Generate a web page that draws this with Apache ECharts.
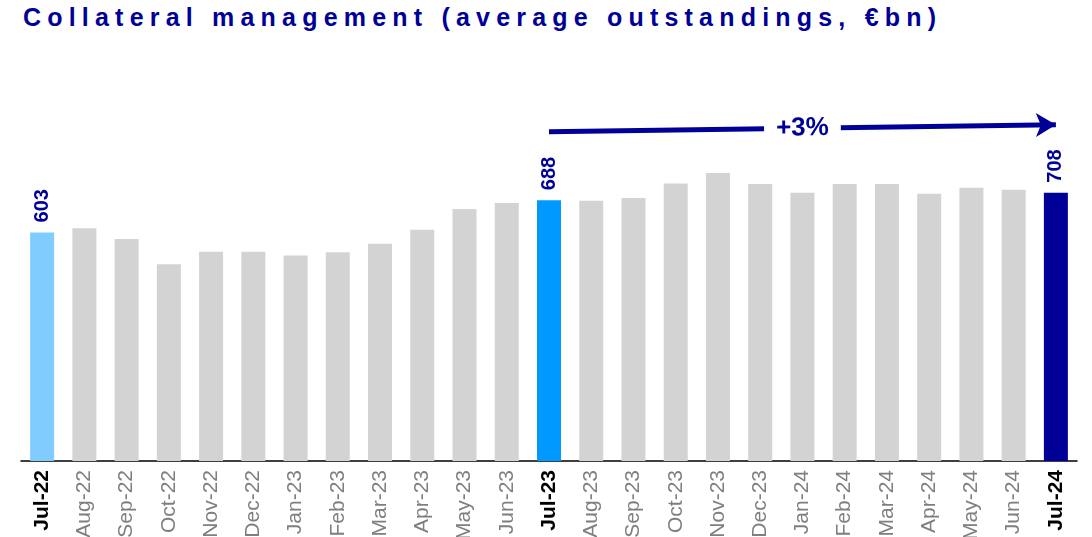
<!DOCTYPE html>
<html>
<head>
<meta charset="utf-8">
<script src="https://cdn.jsdelivr.net/npm/echarts@6/dist/echarts.min.js"></script>
<style>
  html, body { margin: 0; padding: 0; background: #fff; }
  #title {
    position: absolute; left: 23px; top: 3px;
    font: bold 25px "Liberation Sans", Arial, sans-serif;
    letter-spacing: 6.2px; color: #000099; white-space: nowrap;
  }
  #chart { width: 1092px; height: 537px; }
</style>
</head>
<body>
<div id="title">Collateral management (average outstandings, €bn)</div>
<div id="chart"></div>
<script>
var months = ['Jul-22', 'Aug-22', 'Sep-22', 'Oct-22', 'Nov-22', 'Dec-22', 'Jan-23', 'Feb-23', 'Mar-23',
  'Apr-23', 'May-23', 'Jun-23', 'Jul-23', 'Aug-23', 'Sep-23', 'Oct-23', 'Nov-23', 'Dec-23',
  'Jan-24', 'Feb-24', 'Mar-24', 'Apr-24', 'May-24', 'Jun-24', 'Jul-24'];
var outstandings = [603, 614, 586, 519, 552, 552, 542, 551, 573, 610, 665, 681, 688,
  687, 694, 732, 760, 731, 708, 731, 731, 705, 721, 716, 708];
var highlight = { 'Jul-22': '#80ccff', 'Jul-23': '#0099ff', 'Jul-24': '#000099' };
var growthLabel = '+3%';
var arrowFrom = ['Jul-23', 869];
var arrowTo = ['Jul-24', 887];

var chart = echarts.init(document.getElementById('chart'));

var barData = months.map(function (m, i) {
  var item = { value: outstandings[i], itemStyle: { color: highlight[m] || '#d3d3d3' } };
  if (highlight[m]) {
    item.label = { show: true };
  }
  return item;
});

chart.setOption({
  animation: false,
  grid: { left: 21, right: 15, top: 82, bottom: 76, outerBoundsMode: 'none', containLabel: false },
  xAxis: {
    type: 'category',
    data: months,
    axisLine: { lineStyle: { color: '#000', width: 1.5 } },
    axisTick: { show: false },
    axisLabel: {
      interval: 0,
      rotate: 90,
      margin: 9,
      fontFamily: 'Liberation Sans',
      fontSize: 21,
      color: '#7f7f7f',
      formatter: function (v) {
        return highlight[v] ? '{b|' + v + '}' : v;
      },
      rich: { b: { fontFamily: 'Liberation Sans', fontSize: 21, fontWeight: 'bold', color: '#000' } }
    }
  },
  yAxis: { type: 'value', min: 0, max: 1000, show: false, splitLine: { show: false } },
  series: [{
    type: 'bar',
    barWidth: 24,
    data: barData,
    label: {
      show: false,
      position: 'top',
      rotate: 90,
      align: 'left',
      verticalAlign: 'middle',
      distance: 10,
      fontFamily: 'Liberation Sans',
      fontSize: 20,
      fontWeight: 'bold',
      color: '#000099'
    },
    markLine: {
      silent: true,
      symbol: ['none', 'arrow'],
      symbolSize: [18, 20],
      lineStyle: { color: '#000099', width: 5, type: 'solid' },
      label: {
        show: true,
        position: 'middle',
        distance: 0,
        verticalAlign: 'middle',
        formatter: growthLabel,
        fontFamily: 'Liberation Sans',
        fontSize: 26,
        fontWeight: 'bold',
        color: '#000099',
        backgroundColor: '#fff',
        padding: [0, 12]
      },
      data: [[{ coord: arrowFrom }, { coord: arrowTo }]]
    }
  }]
});
</script>
</body>
</html>
